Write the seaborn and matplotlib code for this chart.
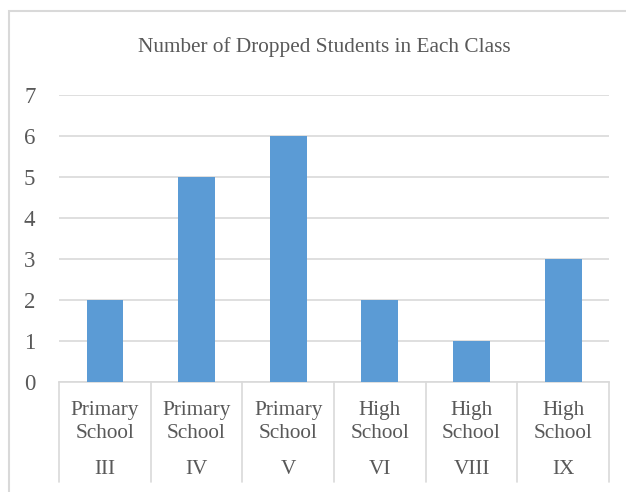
import numpy as np
import pandas as pd
import seaborn as sns
import matplotlib
import matplotlib.pyplot as plt
from matplotlib.patches import Rectangle
matplotlib.use("Agg")

classes = ["III", "IV", "V", "VI", "VIII", "IX"]
schools = ["Primary\nSchool", "Primary\nSchool", "Primary\nSchool",
           "High\nSchool", "High\nSchool", "High\nSchool"]
dropped = [2, 5, 6, 2, 1, 3]

df = pd.DataFrame({"pos": np.arange(len(classes)), "dropped": dropped})

sns.set_style("white")
plt.rcParams["font.family"] = ["Liberation Serif", "DejaVu Serif"]
grey_txt = "#595959"
grid_col = "#D9D9D9"

fig = plt.figure(figsize=(6.26, 4.92), dpi=100)
ax = fig.add_axes([59 / 626, 110 / 492, 550 / 626, 287 / 492])

sns.barplot(data=df, x="pos", y="dropped", color="#5B9BD5", width=0.4,
            saturation=1, linewidth=0, ax=ax, zorder=3)

ax.set_ylim(0, 7)
ax.set_xlim(-0.5, len(classes) - 0.5)
ax.set_yticks(range(0, 8))
ax.yaxis.grid(True, color=grid_col, linewidth=1.2, zorder=0)
ax.tick_params(axis="y", length=0, pad=17, labelsize=16.5, labelcolor=grey_txt)
ax.set_xticks([])
ax.set_xlabel("")
ax.set_ylabel("")
for side in ["left", "right", "top"]:
    ax.spines[side].set_visible(False)
ax.spines["bottom"].set_color(grid_col)
ax.spines["bottom"].set_linewidth(1.2)

# two-level category axis like Excel
trans = matplotlib.transforms.blended_transform_factory(ax.transData, ax.transAxes)
for b in np.arange(-0.5, len(classes), 1.0):
    ax.plot([b, b], [0, -100 / 287], transform=trans, color=grid_col,
            linewidth=1.2, clip_on=False)
for i, (s, c) in enumerate(zip(schools, classes)):
    ax.text(i, -40 / 287, s, transform=trans, ha="center", va="center",
            fontsize=15.3, color=grey_txt, linespacing=1.3)
    ax.text(i, -87 / 287, c, transform=trans, ha="center", va="center",
            fontsize=15.3, color=grey_txt)

fig.text(324.5 / 626, 1 - 47 / 492, "Number of Dropped Students in Each Class",
         ha="center", va="center", fontsize=15.3, color=grey_txt)

# chart area border (only left and top visible in the crop)
fig.patches.append(Rectangle((9 / 626, -0.1), 1.2, (1 - 11 / 492) + 0.1,
                             transform=fig.transFigure, fill=False,
                             edgecolor=grid_col, linewidth=1.5))

fig.savefig("out.png", dpi=100)
